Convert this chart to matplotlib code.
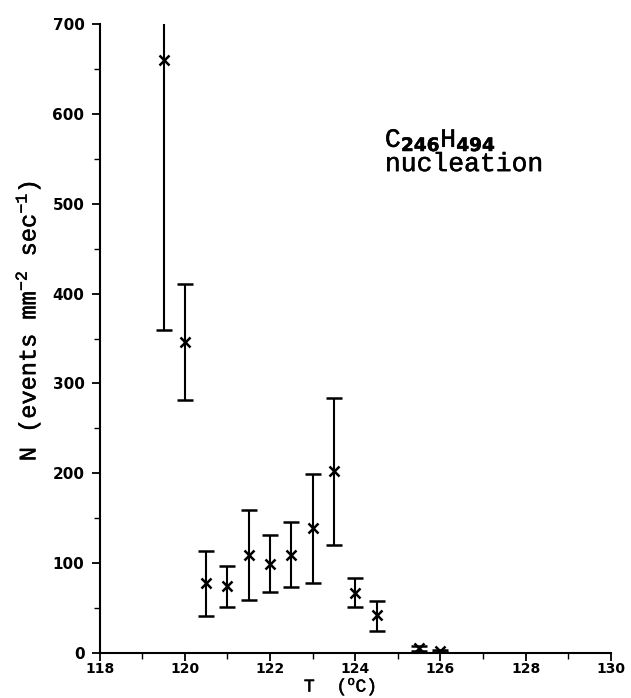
import matplotlib
matplotlib.use("Agg")
import matplotlib.pyplot as plt
import matplotlib.patheffects as pe
from matplotlib.ticker import MultipleLocator

plt.rcParams["mathtext.fontset"] = "custom"
plt.rcParams["mathtext.rm"] = "Liberation Mono"
plt.rcParams["mathtext.it"] = "Liberation Mono:italic"
plt.rcParams["mathtext.bf"] = "DejaVu Sans:bold"

# temperature (C) and nucleation rate with error bar limits
temps = [119.5, 120.0, 120.5, 121.0, 121.5, 122.0, 122.5, 123.0, 123.5, 124.0, 124.5, 125.5, 126.0]
rates = [660, 346, 78, 74, 109, 99, 109, 139, 202, 67, 42, 5, 2]
upper = [960, 411, 114, 97, 159, 131, 146, 199, 284, 83, 58, 8, 3]
lower = [360, 282, 41, 51, 59, 68, 73, 78, 120, 51, 25, 2, 1]

err_lo = [r - lo for r, lo in zip(rates, lower)]
err_hi = [hi - r for r, hi in zip(rates, upper)]

fig = plt.figure(figsize=(6.31, 6.98), dpi=100)
ax = fig.add_axes([0.158, 0.0645, 0.81, 0.901])

ax.errorbar(temps, rates, yerr=[err_lo, err_hi], fmt="x", color="black",
            ms=7, mew=1.8, elinewidth=1.5, capsize=6, capthick=1.5)

ax.set_xlim(118, 130)
ax.set_ylim(0, 700)
ax.xaxis.set_major_locator(MultipleLocator(2))
ax.xaxis.set_minor_locator(MultipleLocator(1))
ax.yaxis.set_major_locator(MultipleLocator(100))
ax.yaxis.set_minor_locator(MultipleLocator(50))

for side in ["top", "right"]:
    ax.spines[side].set_visible(False)
for side in ["left", "bottom"]:
    ax.spines[side].set_linewidth(1.5)

ax.tick_params(which="major", direction="out", length=6, width=1.3)
ax.tick_params(which="minor", direction="out", length=4, width=1.0)
ax.tick_params(axis="x", labelsize=10, pad=0.5)
ax.tick_params(axis="y", labelsize=11, pad=5)
for lab in ax.get_xticklabels() + ax.get_yticklabels():
    lab.set_fontweight("bold")

# slightly heavier strokes for the typewriter-like labels
thick = [pe.withStroke(linewidth=0.35, foreground="black")]

ax.set_xlabel("T  ($^{\\rm o}$C)", family="Liberation Mono", fontsize=13, path_effects=thick)
ax.xaxis.set_label_coords(0.47, -0.036)
ax.set_ylabel("N (events mm$^{-2}$ sec$^{-1}$)", family="Liberation Mono", fontsize=17,
              path_effects=thick)
ax.yaxis.set_label_coords(-0.112, 0.528)

ax.text(0.558, 0.835, "C$_{\\mathbf{246}}$H$_{\\mathbf{494}}$\nnucleation", transform=ax.transAxes,
        family="Liberation Mono", fontsize=19, va="top", ha="left", linespacing=0.95,
        path_effects=thick)

fig.savefig("out.png", dpi=100)
